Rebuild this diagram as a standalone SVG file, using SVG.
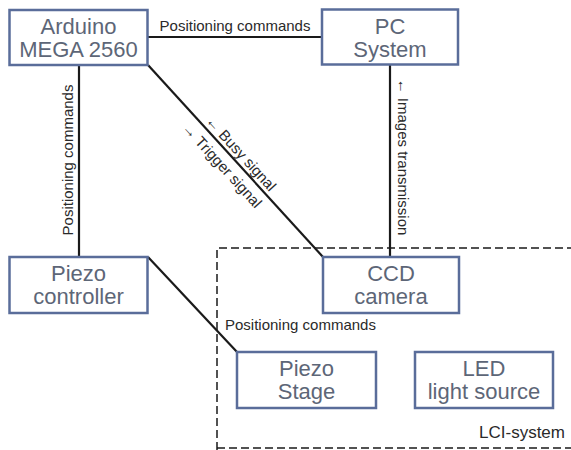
<svg xmlns="http://www.w3.org/2000/svg" width="571" height="450" viewBox="0 0 571 450">
<style>
.box{fill:#fff;stroke:#5a6d9a;stroke-width:2.5}
.nt{font-family:"Liberation Sans",Arial,sans-serif;font-size:22px;fill:#5d6677;text-anchor:middle}
.lbl{font-family:"Liberation Sans",Arial,sans-serif;font-size:15px;fill:#2a2a2a}
.ln{stroke:#1a1a1a;stroke-width:2.2;fill:none}
.dash{stroke:#1a1a1a;stroke-width:1.5;fill:none;stroke-dasharray:8 4}
</style>
<rect width="571" height="450" fill="#fff"/>
<g id="lci-region">
<path class="dash" d="M217,450 V248 H571"/>
<path class="dash" d="M217,448 H571"/>
<text class="lbl" x="565" y="438" text-anchor="end" style="font-size:17px">LCI-system</text>
</g>
<g id="connectors">
<line class="ln" x1="148" y1="37" x2="322" y2="37"/>
<line class="ln" x1="79" y1="65" x2="79" y2="257"/>
<line class="ln" x1="148" y1="65" x2="323" y2="257"/>
<line class="ln" x1="390" y1="65" x2="390" y2="257"/>
<line class="ln" x1="148" y1="257" x2="237" y2="352"/>
<text class="lbl" x="235" y="31" text-anchor="middle">Positioning commands</text>
<text class="lbl" transform="translate(73,160) rotate(-90)" text-anchor="middle">Positioning commands</text>
<text class="lbl" transform="translate(398,157) rotate(90)" text-anchor="middle">← Images transmission</text>
<g transform="translate(148,65) rotate(47.6)">
<text class="lbl" x="128" y="-4" text-anchor="middle">← Busy signal</text>
<text class="lbl" x="124" y="18" text-anchor="middle">→ Trigger signal</text>
</g>
<text class="lbl" x="225" y="330">Positioning commands</text>
</g>
<g id="arduino">
<rect class="box" x="9.5" y="10" width="138" height="55"/>
<text class="nt" x="78.5" y="34">Arduino</text>
<text class="nt" x="78.5" y="57">MEGA 2560</text>
</g>
<g id="pc">
<rect class="box" x="322" y="9.5" width="136" height="55"/>
<text class="nt" x="390" y="34">PC</text>
<text class="nt" x="390" y="57">System</text>
</g>
<g id="piezo-controller">
<rect class="box" x="9.5" y="257" width="138" height="56"/>
<text class="nt" x="78.5" y="281">Piezo</text>
<text class="nt" x="78.5" y="304">controller</text>
</g>
<g id="ccd">
<rect class="box" x="323" y="257" width="136" height="56"/>
<text class="nt" x="391" y="281">CCD</text>
<text class="nt" x="391" y="304">camera</text>
</g>
<g id="piezo-stage">
<rect class="box" x="237" y="352" width="139" height="56"/>
<text class="nt" x="306.5" y="376">Piezo</text>
<text class="nt" x="306.5" y="399">Stage</text>
</g>
<g id="led">
<rect class="box" x="415" y="352" width="138" height="56"/>
<text class="nt" x="484" y="376">LED</text>
<text class="nt" x="484" y="399">light source</text>
</g>
</svg>
